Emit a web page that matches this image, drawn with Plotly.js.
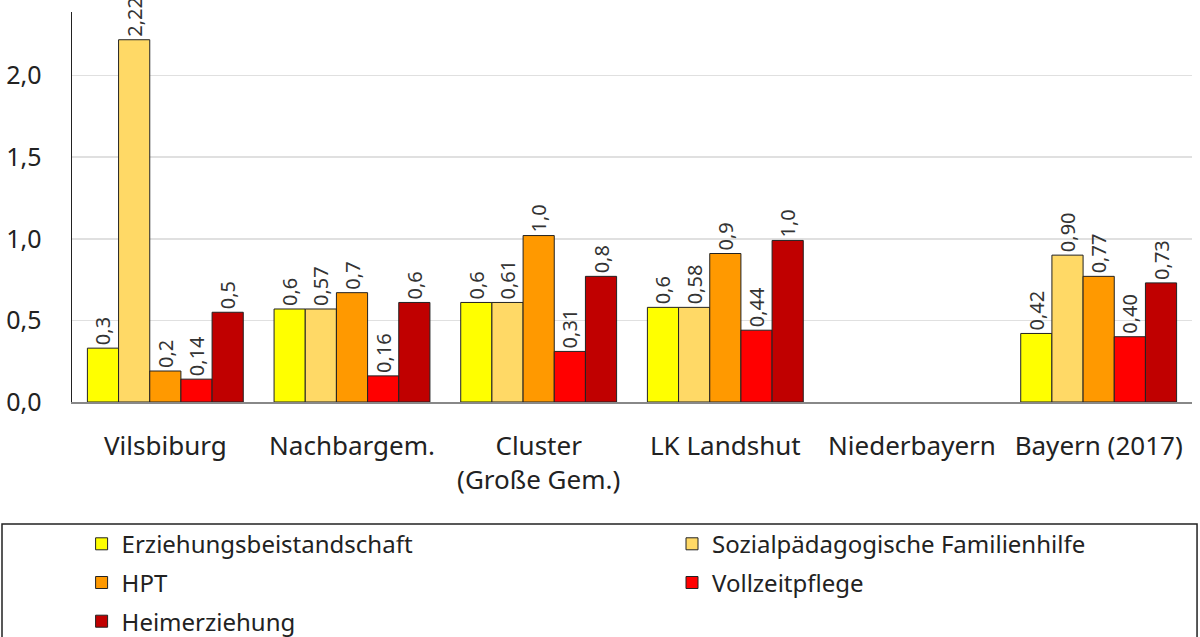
<!DOCTYPE html>
<html><head><meta charset="utf-8">
<script src="https://cdn.plot.ly/plotly-3.0.1.min.js"></script>
<style>html,body{margin:0;padding:0;background:#fff}#chart{width:1200px;height:637px}</style>
</head><body><div id="chart"></div>
<script>
const categories = ["Vilsbiburg", "Nachbargem.", "Cluster<br>(Große Gem.)", "LK Landshut", "Niederbayern", "Bayern (2017)"];
const seriesNames = ["Erziehungsbeistandschaft", "Sozialpädagogische Familienhilfe", "HPT", "Vollzeitpflege", "Heimerziehung"];
const erziehungsbeistandschaft = [0.33, 0.57, 0.61, 0.58, null, 0.42];
const familienhilfe = [2.22, 0.57, 0.61, 0.58, null, 0.90];
const hpt = [0.19, 0.67, 1.02, 0.91, null, 0.77];
const vollzeitpflege = [0.14, 0.16, 0.31, 0.44, null, 0.40];
const heimerziehung = [0.55, 0.61, 0.77, 0.99, null, 0.73];
const labelsErz = ["0,3", "0,6", "0,6", "0,6", "", "0,42"];
const labelsSpfh = ["2,22", "0,57", "0,61", "0,58", "", "0,90"];
const labelsHpt = ["0,2", "0,7", "1,0", "0,9", "", "0,77"];
const labelsVzp = ["0,14", "0,16", "0,31", "0,44", "", "0,40"];
const labelsHeim = ["0,5", "0,6", "0,8", "1,0", "", "0,73"];
const colors = ["#FFFF00", "#FFD966", "#FF9900", "#FF0000", "#C00000"];
const legendFor = ["legend", "legend2", "legend", "legend2", "legend"];

const values = [erziehungsbeistandschaft, familienhilfe, hpt, vollzeitpflege, heimerziehung];
const labels = [labelsErz, labelsSpfh, labelsHpt, labelsVzp, labelsHeim];

const traces = seriesNames.map((n, i) => ({
  type: 'bar', name: n, x: categories, y: values[i],
  legend: legendFor[i], legendgroup: 'g' + i,
  text: labels[i], textposition: 'outside', textangle: -90,
  constraintext: 'none', cliponaxis: false,
  textfont: {family: 'Noto Sans, sans-serif', size: 20, color: '#333'},
  marker: {color: colors[i], line: {color: '#222', width: 1}},
  hoverinfo: 'skip'
}));

const legendFont = {family: 'Noto Sans, sans-serif', size: 24, color: '#222'};
const layout = {
  width: 1200, height: 637,
  margin: {l: 72, r: 8, t: 12, b: 235, autoexpand: false},
  paper_bgcolor: '#fff', plot_bgcolor: '#fff',
  separators: ',.',
  barmode: 'group', bargap: 0.165, bargroupgap: 0,
  showlegend: true,
  font: {family: 'Noto Sans, sans-serif', color: '#222'},
  xaxis: {
    type: 'category', showgrid: false, showline: true, linecolor: '#888', linewidth: 2,
    ticks: 'outside', ticklen: 20, tickcolor: 'rgba(0,0,0,0)',
    tickfont: {size: 26, color: '#222'}, tickangle: 0, fixedrange: true
  },
  yaxis: {
    range: [0, 2.39], dtick: 0.5, tickformat: '.1f',
    showgrid: true, gridcolor: '#e0e0e0', gridwidth: 1.5,
    showline: true, linecolor: '#222', linewidth: 1.5, zeroline: false,
    ticks: 'outside', ticklen: 24, tickcolor: 'rgba(0,0,0,0)',
    tickfont: {size: 25, color: '#222'}, fixedrange: true
  },
  legend: {
    orientation: 'v', xref: 'container', yref: 'container',
    x: 0.068, y: 0.181, xanchor: 'left', yanchor: 'top',
    font: legendFont, tracegroupgap: 4.5,
    bgcolor: 'rgba(0,0,0,0)', borderwidth: 0, traceorder: 'grouped'
  },
  legend2: {
    orientation: 'v', xref: 'container', yref: 'container',
    x: 0.560, y: 0.181, xanchor: 'left', yanchor: 'top',
    font: legendFont, tracegroupgap: 4.5,
    bgcolor: 'rgba(0,0,0,0)', borderwidth: 0, traceorder: 'grouped'
  },
  shapes: [{
    type: 'rect', xref: 'paper', yref: 'paper',
    x0: -0.0625, x1: 1.0045, y0: -0.62, y1: -0.3128,
    line: {color: '#222', width: 1.5}, fillcolor: 'rgba(0,0,0,0)'
  }]
};

Plotly.newPlot('chart', traces, layout, {displayModeBar: false, staticPlot: true});
</script></body></html>
